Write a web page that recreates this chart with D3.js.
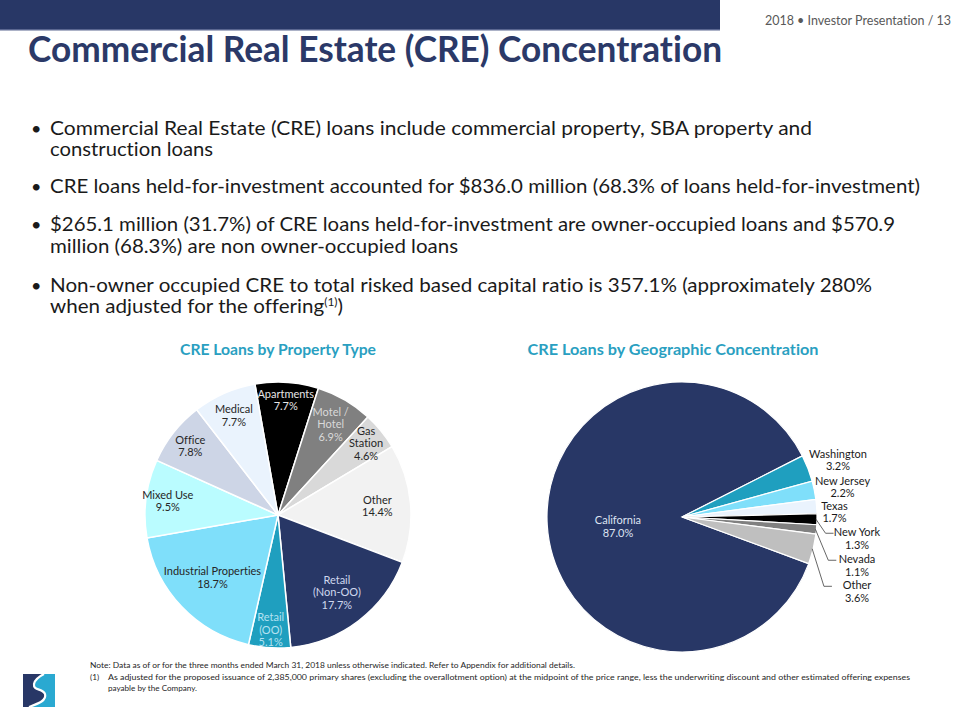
<!DOCTYPE html>
<html>
<head>
<meta charset="utf-8">
<script src="https://cdn.jsdelivr.net/npm/d3@7"></script>
<style>
  body { margin: 0; background: #fff; }
  svg { display: block; font-family: Lato, "Open Sans", sans-serif; font-variant-ligatures: none; font-feature-settings: "liga" 0, "clig" 0; }
</style>
</head>
<body>
<div id="slide"></div>
<script>
// chart data
var propertyLabels = ["Apartments", "Motel / Hotel", "Gas Station", "Other", "Retail (Non-OO)", "Retail (OO)", "Industrial Properties", "Mixed Use", "Office", "Medical"]
var propertyValues = [7.7, 6.9, 4.6, 14.4, 17.7, 5.1, 18.7, 9.5, 7.8, 7.7]
var propertyLines = [["Apartments"], ["Motel /", "Hotel"], ["Gas", "Station"], ["Other"], ["Retail", "(Non-OO)"], ["Retail", "(OO)"], ["Industrial Properties"], ["Mixed  Use"], ["Office"], ["Medical"]]

var geoLabels = ["California", "Washington", "New Jersey", "Texas", "New York", "Nevada", "Other"]
var geoValues = [87.0, 3.2, 2.2, 1.7, 1.3, 1.1, 3.6]

var bullets = [
    ["Commercial Real Estate (CRE) loans include commercial property, SBA property and", "construction loans"],
    ["CRE loans held-for-investment accounted for $836.0 million (68.3% of loans held-for-investment)"],
    ["$265.1 million (31.7%) of CRE loans held-for-investment are owner-occupied loans and $570.9", "million (68.3%) are non owner-occupied loans"],
    ["Non-owner occupied CRE to total risked based capital ratio is 357.1% (approximately 280%", "when adjusted for the offering"]
]
var bulletWidths = [[762, 163], [870], [845, 408], [822, 293]]

// colours
var propertyColors = ["#000000", "#808080", "#d9d9d9", "#f2f2f2", "#283766", "#1f9fbf", "#7fdffa", "#bafcff", "#cdd5e6", "#eaf3fd"]
var propertyTextColors = ["#e6e6e6", "#d9d9d9", "#262626", "#262626", "#cfd7ee", "#b4e2f2", "#262626", "#262626", "#262626", "#262626"]
var geoColors = ["#283766", "#1f9fbf", "#7fdffa", "#eaf3fd", "#000000", "#808080", "#bfbfbf"]

var width = 960
var height = 720
var navy = "#2b3968"
var teal = "#2a9fc1"

var svg = d3.select("#slide")
    .append("svg")
    .attr("width", width)
    .attr("height", height)

// squeeze or stretch a text to the width it has on the slide
function fit(sel, w) {
    sel.attr("textLength", w).attr("lengthAdjust", "spacingAndGlyphs")
}

// header bar
svg.append("rect").attr("x", 0).attr("y", 0).attr("width", 720).attr("height", 30).style("fill", "#283766")
svg.append("rect").attr("x", 0).attr("y", 29).attr("width", 720).attr("height", 1.5).style("fill", "#5a6690")
svg.append("text").attr("x", 951).attr("y", 25).attr("text-anchor", "end")
    .text("2018 \u2022 Investor Presentation / 13")
    .style("font-size", "12.5px").style("fill", "#595959")

// title
svg.append("text").attr("x", 28).attr("y", 62)
    .text("Commercial Real Estate (CRE) Concentration")
    .style("font-size", "36px").style("font-weight", "bold").style("fill", navy)
    .call(fit, 694)

// bullets
var lineY = [[135, 156], [193], [231, 253], [292, 313]]
bullets.forEach(function (para, i) {
    svg.append("text").attr("x", 31).attr("y", lineY[i][0]).text("\u2022")
        .style("font-size", "18px").style("fill", "#1a1a1a")
    para.forEach(function (line, j) {
        var t = svg.append("text").attr("x", 50).attr("y", lineY[i][j])
            .style("font-size", "19px").style("fill", "#1a1a1a")
        if (i == 3 && j == 1) {
            t.append("tspan").text(line)
            t.append("tspan").attr("dy", -7).style("font-size", "11px").text("(1)")
            t.append("tspan").attr("dy", 7).text(")")
        } else {
            t.text(line)
        }
        t.call(fit, bulletWidths[i][j])
    })
})

// chart titles
svg.append("text").attr("x", 278).attr("y", 355).attr("text-anchor", "middle")
    .text("CRE Loans by Property Type")
    .style("font-size", "15px").style("font-weight", "bold").style("fill", teal)
    .call(fit, 196)
svg.append("text").attr("x", 673).attr("y", 355).attr("text-anchor", "middle")
    .text("CRE Loans by Geographic Concentration")
    .style("font-size", "15px").style("font-weight", "bold").style("fill", teal)
    .call(fit, 291)

// ---- left pie: property type
var deg = Math.PI / 180
var r1 = 133
var pie1 = d3.pie().sort(null).startAngle(-10 * deg).endAngle(350 * deg)
var arcs1 = pie1(propertyValues)
var arc1 = d3.arc().innerRadius(0).outerRadius(r1)

var g1 = svg.append("g").attr("transform", "translate(278,515)")
g1.selectAll("path")
    .data(arcs1)
    .enter()
    .append("path")
    .attr("d", arc1)
    .style("fill", function (d, i) { return propertyColors[i] })
    .style("stroke", "#ffffff")
    .style("stroke-width", 1.5)

// how far out each label sits, as a share of the radius
var propertyLabelRadius = [0.865, 0.79, 0.855, 0.75, 0.73, 0.865, 0.68, 0.835, 0.84, 0.82]
var lineH = 12.5
arcs1.forEach(function (d, i) {
    var la = d3.arc().innerRadius(r1 * propertyLabelRadius[i]).outerRadius(r1 * propertyLabelRadius[i])
    var c = la.centroid(d)
    var lines = propertyLines[i].concat([d.data.toFixed(1) + "%"])
    var top = c[1] - (lines.length - 1) * lineH / 2
    var t = g1.append("text").attr("text-anchor", "middle")
        .style("font-size", "11px").style("fill", propertyTextColors[i])
    lines.forEach(function (s, k) {
        t.append("tspan").attr("x", c[0]).attr("y", top + k * lineH + 4).text(s)
    })
})

// ---- right pie: geography
var r2 = 135
var pie2 = d3.pie().sort(null).startAngle(110.2 * deg).endAngle(470.2 * deg)
var arcs2 = pie2(geoValues)
var arc2 = d3.arc().innerRadius(0).outerRadius(r2)

var g2 = svg.append("g").attr("transform", "translate(682,517)")
g2.selectAll("path")
    .data(arcs2)
    .enter()
    .append("path")
    .attr("d", arc2)
    .style("fill", function (d, i) { return geoColors[i] })
    .style("stroke", "#ffffff")
    .style("stroke-width", 1.2)

function polar(a, r) { return [r * Math.sin(a), -r * Math.cos(a)] }

// label placement: angle shift (deg) from slice middle and radius factor; elbow = leader line
var geoLabelShift = [-5.2, 1.1, 0.9, 2.6, 0, 0, 0]
var geoLabelRadius = [0.48, 1.23, 1.21, 1.13, 0, 0, 0]
var geoElbowShift = [0, 0, 0, 0, 5.5, 11.2, 12.3]
var geoElbowRadius = [0, 0, 0, 0, 1.07, 1.13, 1.17]
var geoLabelColors = ["#dde3f2", "#1a1a1a", "#1a1a1a", "#1a1a1a", "#1a1a1a", "#1a1a1a", "#1a1a1a"]

arcs2.forEach(function (d, i) {
    var mid = (d.startAngle + d.endAngle) / 2
    var c
    if (geoElbowRadius[i] > 0) {
        var p0 = polar(mid, r2 - 1)
        var p1 = polar(mid + geoElbowShift[i] * deg, r2 * geoElbowRadius[i])
        var p2 = [p1[0] + 8, p1[1]]
        g2.append("path")
            .attr("d", d3.line()([p0, p1, p2]))
            .style("fill", "none").style("stroke", "#404040").style("stroke-width", 0.8)
        c = [175, p1[1] + 5]
    } else {
        c = polar(mid + geoLabelShift[i] * deg, r2 * geoLabelRadius[i])
    }
    var lines = [geoLabels[i], d.data.toFixed(1) + "%"]
    var top = c[1] - lineH / 2
    var t = g2.append("text").attr("text-anchor", "middle")
        .style("font-size", "11px").style("fill", geoLabelColors[i])
    lines.forEach(function (s, k) {
        t.append("tspan").attr("x", c[0]).attr("y", top + k * 12.5 + 4).text(s)
    })
})

// ---- footer logo
var logo = svg.append("g").attr("transform", "translate(23,674)")
logo.append("rect").attr("width", 32).attr("height", 33).style("fill", "#283766")
logo.append("path")
    .attr("d", "M21,0 L32,0 L32,33 L6,33 C14,30 24,27 22,20 C20,14 10,17 11,10 C12,5 17,2 21,0 Z")
    .style("fill", "#2aa9d1")
logo.append("path")
    .attr("d", "M21,0 C17,2 12,5 11,10 C10,17 20,14 22,20 C24,27 14,30 6,33")
    .style("fill", "none").style("stroke", "#ffffff").style("stroke-width", 2.2)

// ---- footnote
var notes = [
    [90, 668, "Note: Data as of or for the three months ended March 31, 2018 unless otherwise indicated. Refer to Appendix for additional details.", 485],
    [90, 680, "(1)", 0],
    [108, 680, "As adjusted for the proposed issuance of 2,385,000 primary shares (excluding the overallotment option) at the midpoint of the price range, less the underwriting discount and other estimated offering expenses", 802],
    [108, 691, "payable by the Company.", 89]
]
notes.forEach(function (n) {
    var t = svg.append("text").attr("x", n[0]).attr("y", n[1]).text(n[2])
        .style("font-size", "8.2px").style("fill", "#262626")
    if (n[3]) t.call(fit, n[3])
})
</script>
</body>
</html>
